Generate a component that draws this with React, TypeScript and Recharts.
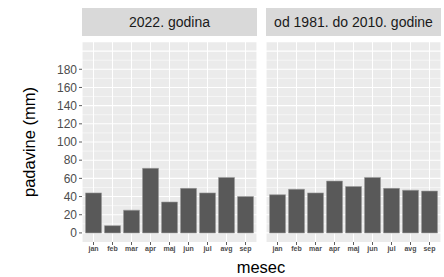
import { BarChart, Bar, XAxis, YAxis, CartesianGrid } from 'recharts';

const months = ['jan', 'feb', 'mar', 'apr', 'maj', 'jun', 'jul', 'avg', 'sep'];
const rain2022 = [44, 8, 25, 71, 34, 49, 44, 61, 40];
const rainNormal = [42, 48, 44, 57, 51, 61, 49, 47, 46];
const yTicks = [0, 20, 40, 60, 80, 100, 120, 140, 160, 180];
const majorGrid = [0, 20, 40, 60, 80, 100, 120, 140, 160, 180, 200];
const minorGrid = [10, 30, 50, 70, 90, 110, 130, 150, 170, 190, 210];
const panelTitles = ['2022. godina', 'od 1981. do 2010. godine'];

const FONT = '"Liberation Sans", Arial, sans-serif';
const PANEL_TOP = 42;
const PANEL_H = 200;
const X_AXIS_H = 20;

const toRows = (values: number[]) => months.map((m, i) => ({ month: m, value: values[i] }));

const Panel = ({ values, showY }: { values: number[]; showY: boolean }) => {
  const yw = showY ? 42 : 0;
  return (
    <BarChart
      width={175 + yw}
      height={PANEL_H + X_AXIS_H}
      data={toRows(values)}
      margin={{ top: 0, right: 0, bottom: 0, left: 0 }}
      barCategoryGap="8%"
    >
      <CartesianGrid fill="#EBEBEB" stroke="#FFFFFF" strokeWidth={0.55} vertical={false} horizontalValues={minorGrid} />
      <CartesianGrid stroke="#FFFFFF" strokeWidth={1.1} horizontalValues={majorGrid} />
      <XAxis
        dataKey="month"
        height={X_AXIS_H}
        padding={{ left: 2, right: 2 }}
        axisLine={false}
        tickSize={3}
        tickLine={{ stroke: '#333333', strokeWidth: 0.8 }}
        tick={{ fontSize: 7, fontWeight: 'bold', fill: '#4D4D4D', fontFamily: FONT, dy: -1 }}
        interval={0}
      />
      <YAxis
        hide={!showY}
        width={yw}
        domain={[-10, 210]}
        ticks={yTicks}
        interval={0}
        allowDataOverflow
        axisLine={false}
        tickSize={3}
        tickLine={{ stroke: '#333333', strokeWidth: 0.8 }}
        tick={{ fontSize: 12, fill: '#4D4D4D', fontFamily: FONT }}
      />
      <Bar dataKey="value" fill="#595959" stroke="#9A9A9A" strokeWidth={0.6} isAnimationActive={false} />
    </BarChart>
  );
};

const Strip = ({ left, text }: { left: number; text: string }) => (
  <div
    style={{
      position: 'absolute',
      left,
      top: 8,
      width: 175,
      height: 28,
      background: '#D9D9D9',
      color: '#1A1A1A',
      fontFamily: FONT,
      fontSize: 14,
      lineHeight: '28px',
      textAlign: 'center',
      whiteSpace: 'nowrap',
    }}
  >
    {text}
  </div>
);

export default function App() {
  return (
    <div
      style={{
        position: 'absolute',
        left: 0,
        top: 0,
        width: 444,
        height: 277,
        overflow: 'hidden',
        background: '#FFFFFF',
        fontFamily: FONT,
      }}
    >
      <Strip left={82} text={panelTitles[0]} />
      <Strip left={266} text={panelTitles[1]} />
      <div style={{ position: 'absolute', left: 40, top: PANEL_TOP }}>
        <Panel values={rain2022} showY />
      </div>
      <div style={{ position: 'absolute', left: 266, top: PANEL_TOP }}>
        <Panel values={rainNormal} showY={false} />
      </div>
      <div
        style={{
          position: 'absolute',
          left: 29,
          top: 142,
          transform: 'translate(-50%, -50%) rotate(-90deg)',
          fontSize: 16.5,
          color: '#000000',
          whiteSpace: 'nowrap',
        }}
      >
        padavine (mm)
      </div>
      <div
        style={{
          position: 'absolute',
          left: 261,
          top: 267,
          transform: 'translate(-50%, -50%)',
          fontSize: 16.5,
          lineHeight: '18px',
          color: '#000000',
          whiteSpace: 'nowrap',
        }}
      >
        mesec
      </div>
    </div>
  );
}
